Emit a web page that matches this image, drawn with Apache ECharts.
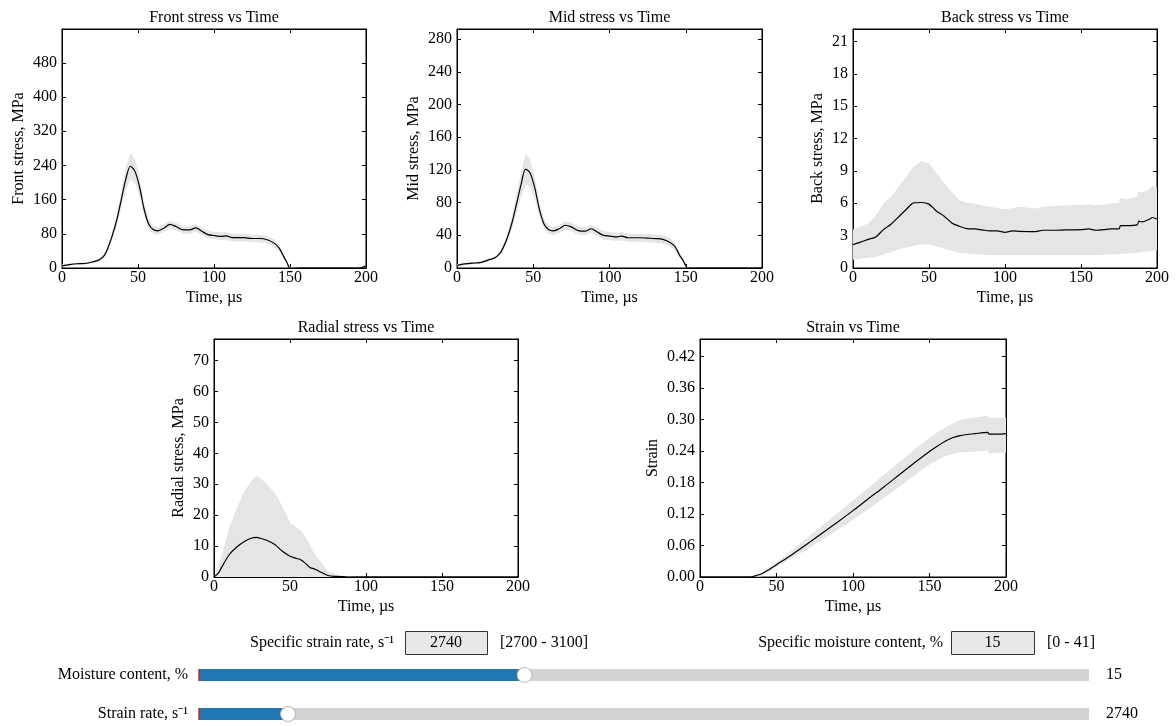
<!DOCTYPE html>
<html>
<head>
<meta charset="utf-8">
<script src="https://cdn.jsdelivr.net/npm/echarts@6/dist/echarts.min.js"></script>
<style>
html,body{margin:0;padding:0;background:#fff;}
#chart{width:1176px;height:726px;}
</style>
</head>
<body>
<div id="chart"></div>
<script>
// ---------- data ----------
const xTicks = [0, 50, 100, 150, 200];

const frontTime  = [0,5,10,15,20,25,28,30,33,36,39,42,45,48,51,54,57,60,63,67,71,75,80,84,88,92,96,100,105,108,112,116,120,125,130,135,140,143,146,148,150,155,170,190,196,198,200];
const frontMean  = [5,8,10,10.5,14,20,30,45,75,112,160,208,238,226,190,138,103,90,87,93,102,97,89,89,94,86,78,76,74,75,71,71,71,69,69,66,57,46,26,13,0,0,0,0,0,2,5];
const frontUpper = [8,11,13,13.5,17,23,34,51,85,127,180,235,269,254,212,153,114,99,96,102,111,106,98,98,103,95,87,85,83,84,80,80,80,78,78,75,66,54,32,17,3,0,0,0,0,3,7];
const frontLower = [2,5,7,7.5,11,17,26,39,65,97,140,181,207,198,168,123,92,81,78,84,93,88,80,80,85,77,69,67,65,66,62,62,62,60,60,57,48,38,20,9,0,0,0,0,0,1,3];

const midTime  = [0,5,10,15,20,25,28,30,33,36,39,42,45,48,51,54,57,60,63,67,71,75,80,84,88,92,96,100,105,108,112,116,120,125,130,135,140,143,146,148,150,151,170,200];
const midMean  = [3.3,5,6,6.5,9.4,12.7,17.6,23.7,37,55,78,102,121,116,98,72,54,47,45.4,48,52.3,50.3,45.4,45,48,44,40,39,38,39,37,37,37,36.5,36,35,31,26,15.5,10,3,0,0,0];
const midUpper = [4.8,6.5,7.5,8,10.9,14.2,19.6,26.7,42,63,89,117,140,133,111,81,60,52,50.4,53,57.3,55.3,50.4,50,53,49,45,44,43,44,42,42,42,41.5,41,40,36,30,18.5,12,4.5,0,0,0];
const midLower = [1.8,3.5,4.5,5,7.9,11.2,15.6,20.7,32,47,67,87,102,99,85,63,48,42,40.4,43,47.3,45.3,40.4,40,43,39,35,34,33,34,32,32,32,31.5,31,30,26,22,12.5,8,1.5,0,0,0];

const backTime  = [0,5,10,15,20,25,30,35,40,45,50,55,60,65,70,75,80,85,90,95,100,105,110,120,125,130,140,150,155,160,165,170,175,176,180,187,188,190,195,197,200];
const backMean  = [2.17,2.4,2.65,2.88,3.56,4.06,4.74,5.42,6.04,6.07,5.92,5.26,4.8,4.18,3.87,3.65,3.62,3.53,3.44,3.44,3.31,3.44,3.4,3.38,3.5,3.5,3.53,3.56,3.62,3.5,3.56,3.62,3.62,3.93,3.93,4.0,4.34,4.27,4.52,4.68,4.52];
const backUpper = [3.56,3.85,4.12,4.8,5.98,6.6,7.53,8.45,9.38,9.91,9.69,8.76,7.9,7.06,6.29,6.04,5.98,5.8,5.67,5.55,5.42,5.55,5.67,5.51,5.65,5.73,5.82,5.85,5.9,5.82,5.85,5.98,6.04,6.53,6.35,6.6,7.15,6.97,7.3,7.62,7.43];
const backLower = [0.77,0.85,0.95,1.02,1.25,1.49,1.7,1.89,2.05,2.2,2.17,2.0,1.8,1.6,1.42,1.35,1.27,1.22,1.2,1.18,1.18,1.18,1.18,1.18,1.18,1.18,1.18,1.18,1.18,1.2,1.22,1.25,1.27,1.3,1.35,1.4,1.45,1.49,1.55,1.6,1.64];

const radialTime  = [0,3,5,10,15,20,25,28,30,35,40,45,50,53,55,57,60,63,65,67,70,75,80,85,90,95,100,150,200];
const radialMean  = [0,1.3,3.1,7.2,9.7,11.5,12.6,12.8,12.6,11.8,10.5,8.3,6.7,6.2,5.9,5.6,4.5,3.1,2.8,2.4,1.6,0.5,0.2,0.1,0,0,0,0,0];
const radialUpper = [0,3.5,6.7,15.9,22.3,27.7,31.5,32.6,32.2,29.9,27.2,22.9,17.5,16.6,15.8,15.1,13.2,10.5,8.3,7,5.1,1.8,0.8,0.4,0.2,0,0,0,0];
const radialLower = [0,0,0,0,0,0,0,0,0,0,0,0,0,0,0,0,0,0,0,0,0,0,0,0,0,0,0,0,0];

const strainTime  = [0,30,33,35,40,45,50,60,70,80,90,100,110,120,130,140,150,155,160,165,170,180,188,189,195,200];
const strainMean  = [0,0,0,0.0013,0.0057,0.014,0.0235,0.0425,0.0628,0.0838,0.1047,0.1263,0.149,0.171,0.194,0.217,0.239,0.249,0.258,0.265,0.269,0.273,0.2754,0.272,0.272,0.273];
const strainUpper = [0,0,0,0.002,0.007,0.017,0.028,0.051,0.074,0.098,0.122,0.146,0.169,0.194,0.218,0.242,0.265,0.275,0.284,0.292,0.299,0.304,0.307,0.303,0.303,0.303];
const strainLower = [0,0,0,0,0.001,0.009,0.019,0.036,0.053,0.071,0.09,0.109,0.129,0.150,0.171,0.193,0.214,0.222,0.230,0.234,0.237,0.239,0.241,0.235,0.236,0.237];

// controls
const moistureRange = [0, 41];
const moistureValue = 15;
const strainRateRange = [2700, 3100];
const strainRateValue = 2740;

// ---------- layout / style ----------
const FONT = 'Liberation Serif';
const FS = 16;
const TXT = '#000';
const BAND = '#e5e5e5';
const FONTSTR = FS + 'px "' + FONT + '"';

const panels = [
  {title:'Front stress vs Time', yName:'Front stress, MPa', t:frontTime, mean:frontMean, lo:frontLower, hi:frontUpper, yMax:559, yInt:80, dec:0, grid:{left:62, top:29, width:304, height:239}, yGap:35},
  {title:'Mid stress vs Time', yName:'Mid stress, MPa', t:midTime, mean:midMean, lo:midLower, hi:midUpper, yMax:292.3, yInt:40, dec:0, grid:{left:457, top:29, width:305, height:239}, yGap:35},
  {title:'Back stress vs Time', yName:'Back stress, MPa', t:backTime, mean:backMean, lo:backLower, hi:backUpper, yMax:22.15, yInt:3, dec:0, grid:{left:853, top:29, width:304, height:239}, yGap:27},
  {title:'Radial stress vs Time', yName:'Radial stress, MPa', t:radialTime, mean:radialMean, lo:radialLower, hi:radialUpper, yMax:77, yInt:10, dec:0, grid:{left:214, top:339, width:304, height:238}, yGap:27},
  {title:'Strain vs Time', yName:'Strain', t:strainTime, mean:strainMean, lo:strainLower, hi:strainUpper, yMax:0.453, yInt:0.06, dec:2, grid:{left:700, top:339, width:306, height:238}, yGap:39}
];

const grids = [], xAxes = [], yAxes = [], series = [], titles = [];
const tickStyle = {show:true, inside:true, length:4, lineStyle:{color:'#000', width:1}};
const lblStyle = {fontFamily:FONT, fontSize:FS, color:TXT};

panels.forEach((p, i) => {
  grids.push(Object.assign({show:true, borderColor:'#000', borderWidth:1, containLabel:false}, p.grid));
  titles.push({
    text:p.title, left:p.grid.left + p.grid.width/2, top:p.grid.top - 19, textAlign:'center', padding:0,
    textStyle:{fontFamily:FONT, fontSize:FS, fontWeight:'normal', color:TXT}
  });
  const xi = xAxes.length, yi = yAxes.length;
  xAxes.push({
    type:'value', gridIndex:i, min:xTicks[0], max:xTicks[xTicks.length-1], interval:xTicks[1]-xTicks[0],
    position:'bottom', name:'Time, µs', nameLocation:'middle', nameGap:22,
    nameTextStyle:{fontFamily:FONT, fontSize:FS, color:TXT},
    axisLine:{show:true, onZero:false, lineStyle:{color:'#000'}},
    axisTick:tickStyle, splitLine:{show:false},
    axisLabel:Object.assign({margin:2}, lblStyle)
  });
  xAxes.push({
    type:'value', gridIndex:i, min:xTicks[0], max:xTicks[xTicks.length-1], interval:xTicks[1]-xTicks[0],
    position:'top', axisLine:{show:true, onZero:false, lineStyle:{color:'#000'}},
    axisTick:tickStyle, splitLine:{show:false}, axisLabel:{show:false}
  });
  const lastTick = Math.floor(p.yMax / p.yInt + 1e-9) * p.yInt;
  const fmt = v => {
    if (v > lastTick + p.yInt * 1e-6) return '';
    const k = v / p.yInt;
    if (Math.abs(k - Math.round(k)) > 1e-6) return '';
    return v.toFixed(p.dec);
  };
  yAxes.push({
    type:'value', gridIndex:i, min:0, max:p.yMax, interval:p.yInt, position:'left',
    name:p.yName, nameLocation:'middle', nameGap:p.yGap,
    nameTextStyle:{fontFamily:FONT, fontSize:FS, color:TXT},
    axisLine:{show:true, onZero:false, lineStyle:{color:'#000'}},
    axisTick:tickStyle, splitLine:{show:false},
    axisLabel:Object.assign({margin:5, formatter:fmt}, lblStyle)
  });
  yAxes.push({
    type:'value', gridIndex:i, min:0, max:p.yMax, interval:p.yInt, position:'right',
    axisLine:{show:true, onZero:false, lineStyle:{color:'#000'}},
    axisTick:tickStyle, splitLine:{show:false}, axisLabel:{show:false}
  });
  const bandData = p.t.map((t, j) => [t, p.lo[j], p.hi[j]]);
  const meanData = p.t.map((t, j) => [t, p.mean[j]]);
  series.push({
    type:'custom', xAxisIndex:xi, yAxisIndex:yi, data:bandData,
    encode:{x:0, y:[1, 2]}, silent:true, z:1, clip:true,
    renderItem:(params, api) => {
      if (params.dataIndex !== 0) return null;
      const pts = [];
      for (let j = 0; j < p.t.length; j++) pts.push(api.coord([p.t[j], p.hi[j]]));
      for (let j = p.t.length - 1; j >= 0; j--) pts.push(api.coord([p.t[j], p.lo[j]]));
      return {type:'polygon', shape:{points:pts}, style:{fill:BAND, stroke:null}};
    }
  });
  series.push({
    type:'line', xAxisIndex:xi, yAxisIndex:yi, data:meanData, symbol:'none',
    lineStyle:{color:'#000', width:1.2}, smooth:0.3, z:3, silent:true
  });
});

// sliders
const sliders = [
  {label:'Moisture content, %', range:moistureRange, value:moistureValue, top:669},
  {label:'Strain rate, s\u207B\u00B9', range:strainRateRange, value:strainRateValue, top:708}
];
const graphics = [];
sliders.forEach((s, k) => {
  const gi = grids.length;
  grids.push({left:199, top:s.top, width:890, height:12, show:false});
  const xi = xAxes.length, yi = yAxes.length;
  xAxes.push({type:'value', gridIndex:gi, min:s.range[0], max:s.range[1], show:false});
  yAxes.push({type:'category', gridIndex:gi, data:['v'], show:false});
  series.push({
    type:'bar', xAxisIndex:xi, yAxisIndex:yi, data:[s.value], barWidth:12,
    showBackground:true, backgroundStyle:{color:'#d3d3d3', opacity:1},
    itemStyle:{color:'#1f77b4', opacity:1}, silent:true, z:2
  });
  series.push({
    type:'scatter', xAxisIndex:xi, yAxisIndex:yi, data:[[s.range[0], 'v']],
    symbol:'rect', symbolSize:[1.5, 12], itemStyle:{color:'#e0201b', opacity:1}, silent:true, z:3, clip:false
  });
  series.push({
    type:'scatter', xAxisIndex:xi, yAxisIndex:yi, data:[[s.value, 'v']],
    symbol:'circle', symbolSize:15, itemStyle:{color:'#ffffff', opacity:1, borderColor:'#b5b5b5', borderWidth:1},
    silent:true, z:4, clip:false
  });
  graphics.push({type:'text', x:188, y:s.top + 6,
    style:{text:s.label, fill:TXT, font:FONTSTR, textAlign:'right', textVerticalAlign:'middle'}});
  graphics.push({type:'text', x:1106, y:s.top + 6,
    style:{text:String(s.value), fill:TXT, font:FONTSTR, textAlign:'left', textVerticalAlign:'middle'}});
});

// specific value boxes
const boxes = [
  {label:'Specific strain rate, s\u207B\u00B9', value:strainRateValue, range:strainRateRange, labelRight:394, boxLeft:405, boxW:82},
  {label:'Specific moisture content, %', value:moistureValue, range:moistureRange, labelRight:943, boxLeft:951, boxW:83}
];
boxes.forEach(b => {
  const cy = 643;
  graphics.push({type:'text', x:b.labelRight, y:cy,
    style:{text:b.label, fill:TXT, font:FONTSTR, textAlign:'right', textVerticalAlign:'middle'}});
  graphics.push({type:'rect', shape:{x:b.boxLeft + 0.5, y:631.5, width:b.boxW, height:23},
    style:{fill:'#e8e8e8', stroke:'#333', lineWidth:1}});
  graphics.push({type:'text', x:b.boxLeft + b.boxW/2, y:cy,
    style:{text:String(b.value), fill:TXT, font:FONTSTR, textAlign:'center', textVerticalAlign:'middle'}});
  graphics.push({type:'text', x:b.boxLeft + b.boxW + 13, y:cy,
    style:{text:'[' + b.range[0] + ' - ' + b.range[1] + ']', fill:TXT, font:FONTSTR, textAlign:'left', textVerticalAlign:'middle'}});
});

const chart = echarts.init(document.getElementById('chart'), null, {renderer:'canvas'});
chart.setOption({
  backgroundColor:'#fff',
  animation:false,
  title:titles,
  grid:grids,
  xAxis:xAxes,
  yAxis:yAxes,
  series:series,
  graphic:graphics,
  tooltip:{show:false}
});
</script>
</body>
</html>
